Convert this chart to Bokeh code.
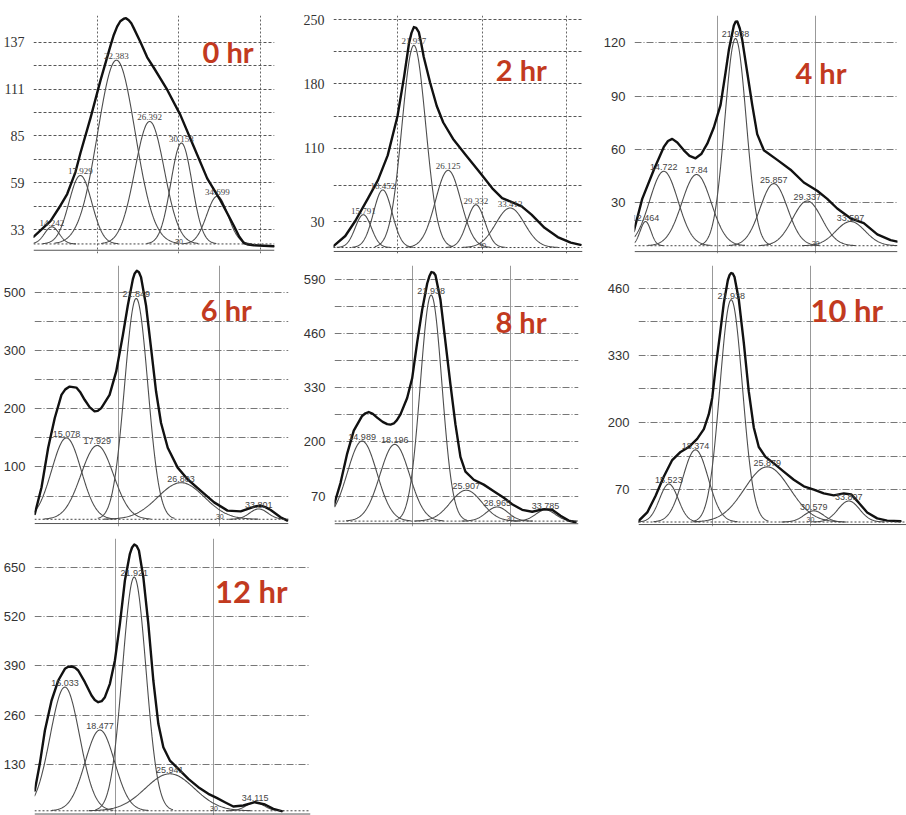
import numpy as np
from bokeh.plotting import figure
from bokeh.layouts import column, row
from bokeh.models import Range1d, FixedTicker, Span
from bokeh.core.properties import value
from bokeh.embed import file_html
from bokeh.resources import INLINE

# ---------------- data ----------------
# 0 hr
env0_t = [12.18, 13.21, 14.23, 15.25, 16.28, 17.30, 17.91, 19.14, 20.37, 21.60, 22.0, 22.41, 22.8, 23.23, 23.5,
          23.84, 24.15, 24.45, 25.28, 26.1, 26.91, 28.55, 30.18, 31.82, 33.46, 35.09, 36.73, 37.4, 37.96, 38.5,
          39.19, 41.64]
env0_v = [29.0, 33.4, 37.7, 44.8, 52.7, 64.9, 75.5, 94.8, 115.8, 135.1, 141.0, 145.6, 148.6, 150.0, 150.3,
          149.2, 147.5, 144.8, 136.9, 128.6, 122.8, 110.6, 96.5, 79.0, 61.4, 49.2, 35.1, 29.0, 25.5, 24.6,
          24.3, 23.7]
lab0 = ["14.242", "17.929", "22.383", "26.392", "30.153", "34.699"]
ctr0 = [14.4, 17.9, 22.33, 26.4, 30.3, 34.7]
pk0 = [34.5, 63, 127, 93, 81, 51.5]
sig0 = [0.9, 1.4, 2.3, 1.8, 1.3, 1.3]
base0 = 25
yt0 = [33, 59, 85, 111, 137]
yg0 = [33, 46, 59, 72, 85, 98, 111, 124, 137]

# 2 hr
env2_t = [12.33, 13.83, 14.99, 16.53, 17.69, 18.84, 20.0, 20.78, 21.35, 21.65, 21.93, 22.2, 22.51, 22.8, 23.09,
          23.86, 24.63, 25.4, 26.56, 28.1, 29.65, 31.19, 32.35, 33.5, 34.66, 35.82, 37.36, 38.91, 40.45, 41.61]
env2_v = [2.7, 14.5, 30.6, 55.7, 75.3, 102.2, 145.1, 188.1, 223.9, 235.5, 241.8, 241.0, 236.4, 224.0, 209.6,
          181.0, 155.9, 138.0, 120.1, 102.2, 84.3, 66.4, 55.7, 51.4, 46.7, 37.7, 23.4, 13.4, 7.3, 4.9]
lab2 = ["15.791", "18.452", "21.957", "26.125", "29.332", "33.413"]
ctr2 = [15.96, 18.26, 21.93, 25.98, 29.26, 33.3]
pk2 = [37.7, 64.6, 222, 86, 48.5, 45]
sig2 = [0.95, 1.1, 1.4, 1.5, 1.05, 1.7]
base2 = 2
yt2 = [30, 110, 180, 250]
yg2 = [30, 70, 110, 145, 180, 215, 250]

# 4 hr
env4_t = [11.4, 12.26, 13.45, 14.47, 14.9, 15.33, 15.85, 16.52, 17.1, 17.72, 18.3, 18.92, 19.59, 20.28, 20.79,
          21.13, 21.64, 21.82, 21.99, 22.25, 22.5, 23.01, 23.52, 24.03, 24.71, 26.08, 27.44, 28.8, 30.17, 31.2,
          32.22, 33.58, 34.94, 36.32, 37.68, 38.36]
env4_v = [14.2, 32.3, 48.7, 61.5, 64.8, 66.0, 64.0, 59.6, 56.5, 55.1, 57.5, 63.3, 72.4, 85.1, 103.3,
          116.0, 129.7, 131.8, 132.0, 128.0, 121.5, 103.3, 85.1, 68.7, 59.6, 54.2, 48.7, 41.5, 36.9, 32.3,
          26.9, 21.4, 18.7, 12.4, 9.1, 8.3]
lab4 = ["12.464", "14.722", "17.84", "21.938", "25.857", "29.337", "33.597"]
ctr4 = [12.6, 14.47, 17.82, 21.81, 25.73, 29.15, 33.58]
pk4 = [19.6, 47.8, 46, 122.4, 40.9, 31.1, 19.6]
sig4 = [0.55, 1.45, 1.5, 1.1, 1.4, 1.5, 1.5]
base4 = 6
yt4 = [30, 60, 90, 120]
yg4 = [30, 60, 90, 120]

# 6 hr
env6_t = [11.74, 12.4, 13.06, 13.71, 14.37, 14.75, 15.18, 15.84, 16.25, 16.66, 17.15, 17.64, 17.95, 18.3, 19.12,
          19.77, 20.43, 20.92, 21.42, 21.6, 21.81, 22.02, 22.23, 22.72, 23.22, 23.71, 24.2, 24.86, 25.84, 26.82,
          28.13, 29.44, 30.76, 32.06, 33.22, 33.6, 34.03, 34.5, 35.02, 36.0, 36.66]
env6_v = [19.2, 64.8, 133.0, 184.2, 224.1, 233.5, 238.3, 236.6, 228.0, 215.6, 203.0, 195.6, 196.5, 201.3, 224.1,
          263.9, 326.5, 377.8, 423.2, 433.0, 437.5, 435.0, 426.1, 377.8, 303.7, 229.8, 175.7, 133.0, 98.9, 78.9,
          59.0, 39.1, 24.9, 23.7, 30.5, 32.5, 33.4, 31.0, 26.0, 13.5, 7.8]
lab6 = ["15.078", "17.929", "21.849", "26.803", "33.801"]
ctr6 = [14.86, 17.9, 21.75, 26.18, 33.84]
pk6 = [150, 137, 390, 73, 27.8]
sig6 = [1.45, 1.6, 1.15, 2.3, 0.9]
base6 = 10
yt6 = [100, 200, 300, 400]
ylab6 = {400: "500"}
yg6 = [50, 100, 150, 200, 250, 300, 350, 400]

# 8 hr
env8_t = [12.02, 12.71, 13.39, 14.06, 14.91, 15.25, 15.58, 16.0, 16.44, 17.0, 17.46, 17.8, 18.13, 18.45, 18.81,
          19.49, 20.0, 20.51, 21.02, 21.53, 21.75, 21.96, 22.17, 22.37, 22.88, 23.39, 23.9, 24.4, 24.91, 25.42,
          26.27, 27.28, 28.3, 29.32, 30.17, 31.19, 32.21, 33.39, 34.24, 35.09, 35.93, 36.61]
env8_v = [46.5, 101.3, 171.9, 226.9, 262.2, 268.5, 271.6, 267.0, 258.2, 248.0, 242.5, 241.5, 244.1, 252.0, 266.0,
          305.3, 352.4, 438.7, 517.1, 579.8, 597.0, 607.2, 606.0, 599.4, 540.6, 438.7, 336.6, 242.5, 164.1, 128.8,
          109.2, 97.5, 81.8, 66.0, 50.5, 37.1, 32.4, 38.7, 37.1, 22.9, 11.2, 7.2]
lab8 = ["14.989", "18.196", "21.938", "25.907", "28.965", "33.785"]
ctr8 = [14.91, 18.23, 21.93, 25.5, 28.65, 33.56]
pk8 = [202, 194, 552, 84, 44, 37]
sig8 = [1.5, 1.5, 1.1, 1.6, 1.1, 1.0]
base8 = 10
yt8 = [70, 200, 330, 460, 590]
yg8 = [70, 135, 200, 265, 330, 395, 460, 525, 590]

# 10 hr
env10_t = [12.37, 13.39, 14.23, 15.08, 15.93, 16.78, 17.62, 18.47, 19.15, 19.65, 20.0, 20.34, 20.77, 21.18, 21.59,
           21.77, 21.93, 22.1, 22.27, 22.71, 23.21, 23.72, 24.23, 24.74, 25.42, 26.27, 27.28, 28.3, 29.32, 30.34,
           31.35, 32.37, 33.39, 34.14, 34.91, 35.77, 36.79, 37.8, 39.16]
env10_v = [6.5, 25.5, 57.3, 95.3, 127.1, 142.9, 152.4, 168.2, 187.2, 215.7, 247.5, 304.6, 368.0, 431.5, 475.8,
           486.0, 489.7, 488.5, 482.1, 437.8, 355.4, 260.3, 190.4, 152.4, 133.4, 120.6, 104.8, 89.0, 76.3, 70.0,
           62.4, 58.6, 62.4, 60.5, 44.5, 25.5, 14.1, 9.7, 8.4]
lab10 = ["15.523", "18.374", "21.938", "25.879", "30.579", "33.897"]
ctr10 = [15.59, 18.3, 21.93, 25.6, 30.34, 33.9]
pk10 = [80.7, 147, 438, 114, 28.7, 47.7]
sig10 = [0.95, 1.3, 1.15, 2.3, 1.0, 1.1]
base10 = 7
yt10 = [70, 200, 330, 460]
yg10 = [70, 135, 200, 265, 330, 395, 460]

# 12 hr
env12_t = [11.73, 12.24, 12.76, 13.44, 14.12, 14.8, 15.14, 15.48, 15.82, 16.16, 16.84, 17.52, 17.85, 18.2, 18.55,
           18.88, 19.39, 19.9, 20.41, 20.92, 21.43, 21.65, 21.88, 22.12, 22.35, 22.8, 23.31, 23.82, 24.33, 24.84,
           25.51, 26.37, 27.39, 28.41, 29.43, 30.28, 31.12, 31.98, 33.0, 34.18, 35.2, 36.06, 36.91]
env12_v = [61.5, 131.8, 219.6, 298.7, 351.4, 382.2, 387.5, 388.3, 385.5, 377.8, 346.9, 311.9, 300.0, 294.2, 297.0,
           307.4, 342.7, 404.1, 500.8, 615.0, 685.3, 702.0, 709.9, 706.0, 694.0, 623.7, 500.8, 351.4, 237.3, 175.6,
           140.5, 118.6, 92.3, 70.2, 52.8, 42.2, 30.6, 19.3, 21.9, 30.6, 24.6, 13.2, 6.9]
lab12 = ["15.033", "18.477", "21.921", "25.941", "34.115"]
ctr12 = [14.8, 18.37, 21.87, 25.5, 34.2]
pk12 = [334, 221, 624, 105.5, 30.6]
sig12 = [1.5, 1.5, 1.2, 2.5, 0.9]
base12 = 8
yt12 = [130, 260, 390, 520, 650]
yg12 = [130, 260, 390, 520, 650]

titles = ["0 hr", "2 hr", "4 hr", "6 hr", "8 hr", "10 hr", "12 hr"]
x_lines = [20, 30, 40]

# ---------------- layout / style config ----------------
RED = "#c23a1f"

panels = [
    dict(env=(env0_t, env0_v), comp=(lab0, ctr0, pk0, sig0), base=base0, floor=21.5, yt=yt0, yg=yg0, ylab={},
         w=300, h=260, bl=33, br=26, bt=5, bb=4, xr=(12.15, 41.72), yr=(19.7, 151.8),
         serif=True, title=titles[0], tpos=(32.9, 131.8), tsize="29px", lab_font="Liberation Serif"),
    dict(env=(env2_t, env2_v), comp=(lab2, ctr2, pk2, sig2), base=base2, floor=-2.3, yt=yt2, yg=yg2, ylab={},
         w=300, h=260, bl=28, br=18, bt=15, bb=4, xr=(12.44, 41.84), yr=(-4.5, 254.4),
         serif=True, title=titles[1], tpos=(31.6, 195.3), tsize="29px", lab_font="Liberation Serif"),
    dict(env=(env4_t, env4_v), comp=(lab4, ctr4, pk4, sig4), base=base4, floor=2.7, yt=yt4, yg=yg4, ylab={},
         w=306, h=260, bl=34, br=9, bt=8, bb=7, xr=(11.47, 38.39), yr=(1.63, 135.3),
         serif=False, title=titles[2], tpos=(27.95, 103.3), tsize="29px", lab_font="Liberation Sans"),
    dict(env=(env6_t, env6_v), comp=(lab6, ctr6, pk6, sig6), base=base6, floor=2.7, yt=yt6, yg=yg6, ylab=ylab6,
         w=300, h=275, bl=33, br=12, bt=3, bb=9, xr=(11.71, 36.78), yr=(-2.4, 446.6),
         serif=False, title=titles[3], tpos=(28.13, 370.6), tsize="29px", lab_font="Liberation Sans"),
    dict(env=(env8_t, env8_v), comp=(lab8, ctr8, pk8, sig8), base=base8, floor=3.8, yt=yt8, yg=yg8, ylab={},
         w=300, h=275, bl=34, br=22, bt=5, bb=4, xr=(12.1, 36.92), yr=(-2.9, 622.9),
         serif=False, title=titles[4], tpos=(28.47, 489.5), tsize="29px", lab_font="Liberation Sans"),
    dict(env=(env10_t, env10_v), comp=(lab10, ctr10, pk10, sig10), base=base10, floor=2.1, yt=yt10, yg=yg10,
         ylab={}, w=306, h=275, bl=38, br=0, bt=5, bb=4, xr=(12.5, 39.77), yr=(-1.7, 504.4),
         serif=False, title=titles[5], tpos=(30.0, 417.2), tsize="31px", lab_font="Liberation Sans"),
    dict(env=(env12_t, env12_v), comp=(lab12, ctr12, pk12, sig12), base=base12, floor=-0.5, yt=yt12, yg=yg12,
         ylab={}, w=320, h=280, bl=33, br=10, bt=3, bb=0, xr=(11.7, 39.85), yr=(-4.4, 725.7),
         serif=False, title=titles[6], tpos=(30.1, 586.5), tsize="31px", lab_font="Liberation Sans"),
]


def make_panel(cfg):
    x0, x1 = cfg["xr"]
    p = figure(width=cfg["w"], height=cfg["h"], output_backend="svg", toolbar_location=None,
               x_range=Range1d(x0, x1), y_range=Range1d(*cfg["yr"]),
               min_border_left=cfg["bl"], min_border_right=cfg["br"],
               min_border_top=cfg["bt"], min_border_bottom=cfg["bb"])
    p.outline_line_color = None
    p.background_fill_color = "white"
    p.border_fill_color = "white"
    p.xaxis.visible = False

    yax = p.yaxis[0]
    yax.ticker = FixedTicker(ticks=cfg["yt"])
    if cfg["ylab"]:
        yax.major_label_overrides = cfg["ylab"]
    yax.axis_line_color = None
    yax.major_tick_line_color = None
    yax.minor_tick_line_color = None
    yax.major_label_standoff = 3
    yax.major_label_text_font = "Liberation Serif" if cfg["serif"] else "Liberation Sans"
    yax.major_label_text_font_size = "14px" if cfg["serif"] else "13px"
    yax.major_label_text_color = "#333333"

    p.ygrid.ticker = FixedTicker(ticks=cfg["yg"])
    p.ygrid.grid_line_color = "#555555" if cfg["serif"] else "#777777"
    p.ygrid.grid_line_dash = "3 2" if cfg["serif"] else "7 2 1 2"
    p.ygrid.grid_line_width = 1
    p.xgrid.ticker = FixedTicker(ticks=[v for v in x_lines if x0 < v < x1])
    p.xgrid.grid_line_color = "#666666" if cfg["serif"] else "#999999"
    p.xgrid.grid_line_dash = "2 2" if cfg["serif"] else "solid"
    p.xgrid.grid_line_width = 1

    b = cfg["base"]
    p.add_layout(Span(location=cfg["floor"], dimension="width", line_color="#555555", line_width=1))
    p.add_layout(Span(location=b, dimension="width", line_color="#444444", line_width=1, line_dash="2 2"))

    labs, ctr, pk, sig = cfg["comp"]
    for c, h, s in zip(ctr, pk, sig):
        t = np.linspace(max(x0, c - 3.3 * s), min(x1, c + 3.3 * s), 160)
        yv = b + (h - b) * np.exp(-((t - c) ** 2) / (2 * s * s))
        p.line(t, yv, line_color="#4d4d4d", line_width=1.1)

    et, ev = cfg["env"]
    p.line(et, ev, line_color="#111111", line_width=2.4, line_join="round", line_cap="round")

    p.text(x=ctr, y=pk, text=labs, text_font=value(cfg["lab_font"]), text_font_size="9px",
           text_align="center", text_baseline="bottom", y_offset=-1, text_color="#444444")
    p.text(x=[30], y=[b], text=["30"], text_font=value("Liberation Sans"), text_font_size="7px",
           text_align="center", text_baseline="bottom", text_color="#444444")
    p.text(x=[cfg["tpos"][0]], y=[cfg["tpos"][1]], text=[cfg["title"]], text_font=value("Lato"),
           text_font_style="bold", text_font_size=cfg["tsize"], text_color=RED,
           text_align="left", text_baseline="middle")
    return p


figs = [make_panel(c) for c in panels]
layout = column(row(figs[0], figs[1], figs[2]),
                row(figs[3], figs[4], figs[5]),
                row(figs[6]))

open("out.html", "w").write(file_html(layout, INLINE))
